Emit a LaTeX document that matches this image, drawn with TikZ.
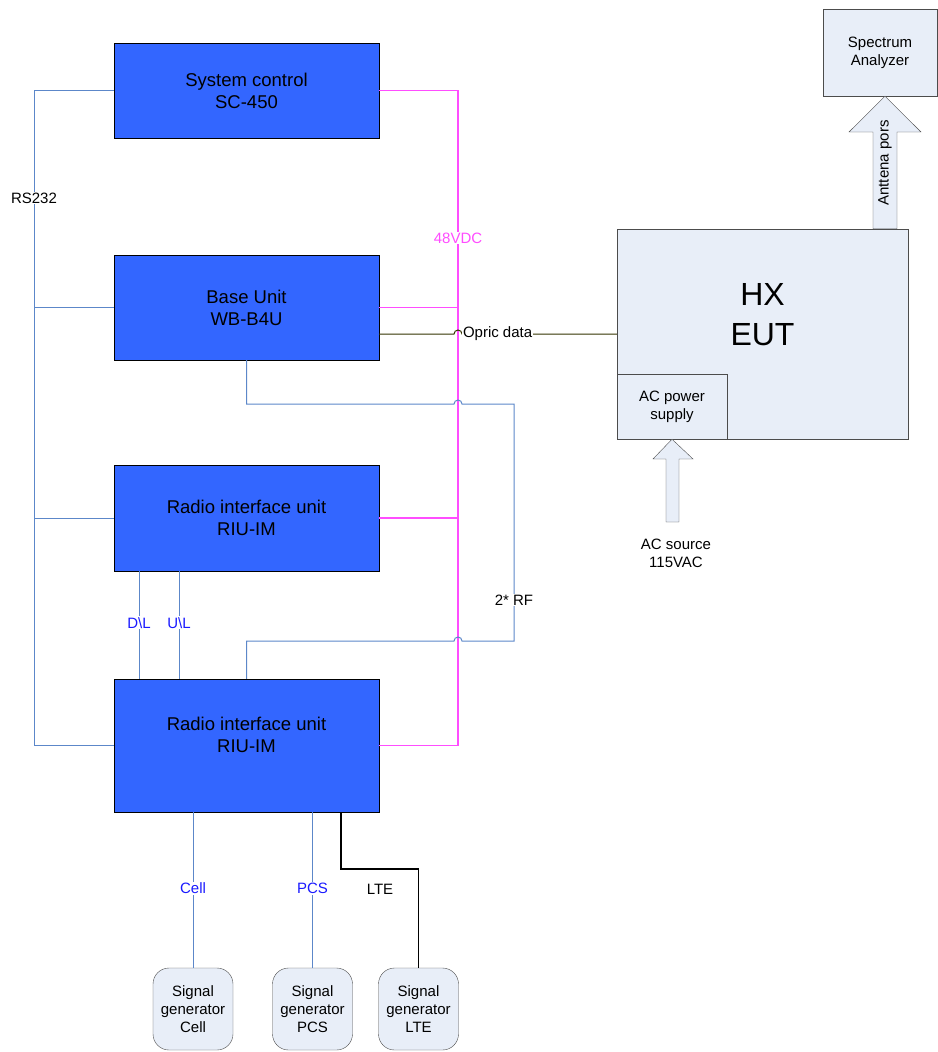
\documentclass[tikz,border=0pt]{standalone}
\usepackage{fontspec}
\setmainfont{Liberation Sans}
\definecolor{unitblue}{HTML}{3366FF}
\definecolor{paleblue}{HTML}{E8EEF8}
\definecolor{wireblue}{HTML}{5C87C9}
\definecolor{dcpink}{HTML}{FF4DFF}
\definecolor{optic}{HTML}{333300}
\definecolor{labblue}{HTML}{1A1AFF}
\begin{document}
\begin{tikzpicture}[x=1pt,y=-1pt,
   unit/.style={draw=black,fill=unitblue,minimum width=265pt,align=center,
      font=\fontsize{18.5}{22}\selectfont},
   panel/.style={draw=black!70,fill=paleblue,align=center,font=\fontsize{15}{18}\selectfont},
   gen/.style={panel,rounded corners=16pt,minimum width=80pt,minimum height=82pt},
   bigarrow/.style={draw=black!70,fill=paleblue},
   rs/.style={draw=wireblue,line width=1pt},
   dc/.style={draw=dcpink,line width=1.3pt},
   tag/.style={fill=white,inner sep=1pt,font=\fontsize{15}{18}\selectfont}]
\useasboundingbox (0,0) rectangle (937,1052);
\node[unit,minimum height=95pt] (sc) at (246.5,90.5) {System control\\SC-450};
\node[unit,minimum height=105pt] (base) at (246.5,307.5) {Base Unit\\WB-B4U};
\node[unit,minimum height=106pt] (riu1) at (246.5,518) {Radio interface unit\\RIU-IM};
\node[unit,minimum height=133pt] (riu2) at (246.5,745.5) {Radio interface unit\\RIU-IM\\\mbox{}};
\node[panel,minimum width=291pt,minimum height=210pt,font=\fontsize{32}{40}\selectfont]
   (hx) at (762.5,334) {HX\\EUT\\\mbox{}};
\node[panel,minimum width=110pt,minimum height=65pt] (ac) at (672,406.5) {AC power\\supply};
\node[panel,minimum width=114pt,minimum height=87pt] (sa) at (880,52.5) {Spectrum\\Analyzer};
\draw[bigarrow] (hx.north -| 873,0) -- (873,132) -- (849,132) -- (sa.south -| 885,0)
   -- (921,132) -- (897,132) -- (hx.north -| 897,0) -- cycle;
\node[rotate=90,font=\fontsize{15}{18}\selectfont] (antlbl) at (885,163) {Anttena pors};
\draw[bigarrow] (666,522) -- (666,459) -- (653,459) -- (ac.south) -- (693,459) -- (679,459)
   -- (679,522) -- cycle;
\node[align=center,font=\fontsize{15}{18}\selectfont] (acsrc) at (676,553) {AC source\\115VAC};
\node[gen] (gcell) at (193,1009) {Signal\\generator\\Cell};
\node[gen] (gpcs) at (312.5,1009) {Signal\\generator\\PCS};
\node[gen] (glte) at (418.5,1009) {Signal\\generator\\LTE};
\coordinate (rsbus) at (34,0);
\coordinate (dcbus) at (458,0);
\coordinate (rfT) at (514,404);
\coordinate (rfB) at (514,641);
\coordinate (dl) at (139,0);
\coordinate (ul) at (179,0);
\coordinate (lte) at (341,869);
\draw[rs] (sc.west) -- (sc.west -| rsbus) -- node[tag,pos=0.164] {RS232} (riu2.west -| rsbus)
   -- (riu2.west);
\foreach \u in {base,riu1}
   \draw[rs] (\u.west) -- (\u.west -| rsbus);
\draw[dc] (sc.east) -- (sc.east -| dcbus) -- node[tag,text=dcpink,pos=0.225] {48VDC}
   (riu2.east -| dcbus) -- (riu2.east);
\foreach \u in {base,riu1}
   \draw[dc] (\u.east) -- (\u.east -| dcbus);
\draw[draw=optic,line width=1pt] (base.east |- hx.west) -- ([xshift=-4pt]hx.west -| dcbus)
   arc[start angle=180,end angle=0,radius=4pt] -- node[tag,text=black,pos=0.23] {Opric data} (hx.west);
\draw[rs] (base.south) -- (base.south |- rfT) -- ([xshift=-4pt]rfT -| dcbus)
   arc[start angle=180,end angle=0,radius=4pt] -- (rfT) -- node[tag,pos=0.827] {2* RF} (rfB)
   -- ([xshift=4pt]rfB -| dcbus) arc[start angle=0,end angle=180,radius=4pt]
   -- (rfB -| riu2.north) -- (riu2.north);
\draw[rs] (riu1.south -| dl) -- node[tag,text=labblue,pos=0.48] {D\textbackslash L} (riu2.north -| dl);
\draw[rs] (riu1.south -| ul) -- node[tag,text=labblue,pos=0.48] {U\textbackslash L} (riu2.north -| ul);
\draw[rs] (gcell.north |- riu2.south) -- node[tag,text=labblue,pos=0.49] {Cell} (gcell.north);
\draw[rs] (gpcs.north |- riu2.south) -- node[tag,text=labblue,pos=0.49] {PCS} (gpcs.north);
\draw[black,line width=1.4pt] (lte |- riu2.south) -- (lte) -| (glte.north);
\node[font=\fontsize{15}{18}\selectfont] (ltetag) at (380,889) {LTE};
\end{tikzpicture}
\end{document}
